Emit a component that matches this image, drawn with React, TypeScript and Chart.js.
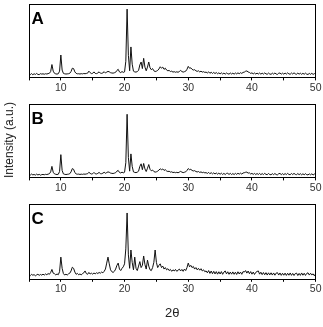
import React, { useEffect, useRef } from "react";
import { Chart, registerables } from "chart.js";

Chart.register(...registerables);

// 2θ sampling of the diffraction patterns
const TWO_THETA_START = 5;
const TWO_THETA_STEP = 0.2;
const TWO_THETA_MIN = 5;
const TWO_THETA_MAX = 50;
const TICK_STEP = 5;
const LABEL_EVERY = 10;

// Pattern A intensities (a.u.), one value per 0.2° from 5.0° to 50.0°
const patternA = [
  4.8, 3.8, 5.2, 3.6, 5.0, 4.0, 5.4, 4.0, 3.8, 5.1, // 5.0–6.8
  4.5, 4.9, 4.3, 5.0, 4.6, 5.2, 5.6, 8.0, 17.5, 8.5, // 7.0–8.8
  5.6, 4.8, 4.5, 5.0, 8.5, 30.5, 10.0, 5.5, 4.9, 4.6, // 9.0–10.8
  4.8, 5.0, 5.6, 8.0, 12.5, 12.0, 7.5, 5.5, 4.9, 5.0, // 11.0–12.8
  4.6, 5.1, 4.8, 5.3, 5.0, 5.4, 5.8, 8.5, 6.5, 5.2, // 13.0–14.8
  5.6, 7.5, 5.4, 5.2, 6.0, 7.6, 5.8, 5.5, 6.2, 7.8, // 15.0–16.8
  6.0, 7.2, 8.2, 7.6, 6.4, 6.0, 5.8, 6.3, 7.0, 9.5, // 17.0–18.8
  11.0, 7.5, 6.5, 8.0, 6.8, 7.5, 22.0, 93.0, 30.0, 9.0, // 19.0–20.8
  41.5, 18.0, 8.5, 7.5, 7.2, 8.0, 9.5, 17.0, 21.0, 12.0, // 21.0–22.8
  26.0, 14.0, 9.0, 14.0, 21.0, 13.0, 10.5, 12.0, 9.0, 8.0, // 23.0–24.8
  8.5, 9.5, 11.5, 14.5, 12.5, 14.0, 11.0, 12.5, 10.0, 9.0, // 25.0–26.8
  9.5, 8.0, 8.5, 7.2, 7.8, 7.0, 7.6, 7.0, 8.0, 9.5, // 27.0–28.8
  8.0, 7.2, 7.8, 8.5, 11.0, 15.0, 12.5, 13.0, 11.0, 10.0, // 29.0–30.8
  10.5, 9.0, 8.2, 9.0, 7.5, 8.5, 7.2, 7.8, 6.8, 7.2, // 31.0–32.8
  6.0, 7.6, 5.6, 7.0, 5.4, 6.8, 5.2, 6.6, 5.0, 6.2, // 33.0–34.8
  4.8, 6.2, 4.6, 5.9, 4.4, 6.0, 5.0, 4.4, 6.0, 4.6, // 35.0–36.8
  5.8, 4.4, 6.0, 4.8, 6.2, 5.0, 6.4, 5.4, 6.8, 7.2, // 37.0–38.8
  8.4, 8.8, 7.4, 6.8, 5.4, 6.2, 4.8, 6.0, 4.6, 5.8, // 39.0–40.8
  4.6, 6.0, 4.4, 5.8, 4.5, 6.1, 4.8, 4.3, 5.9, 4.6, // 41.0–42.8
  4.2, 5.8, 4.5, 6.0, 4.6, 4.1, 5.7, 6.0, 4.4, 5.8, // 43.0–44.8
  4.4, 5.9, 4.5, 6.2, 4.8, 4.3, 6.0, 4.6, 6.3, 4.8, // 45.0–46.8
  4.3, 5.9, 4.4, 5.7, 4.2, 5.6, 4.3, 5.8, 4.4, 4.0, // 47.0–48.8
  5.4, 4.2, 5.6, 4.0, 5.2, 4.3, // 49.0–50.0
];

// Pattern B intensities (a.u.)
const patternB = [
  4.2, 3.2, 4.6, 3.4, 4.0, 3.1, 4.5, 3.3, 4.2, 3.0, // 5.0–6.8
  3.8, 4.0, 3.6, 4.2, 3.9, 4.4, 5.0, 7.5, 15.0, 7.0, // 7.0–8.8
  4.8, 4.2, 3.9, 4.3, 8.0, 31.0, 9.5, 4.8, 4.2, 3.9, // 9.0–10.8
  4.2, 4.4, 5.0, 7.5, 12.0, 11.0, 6.5, 4.8, 4.3, 4.5, // 11.0–12.8
  4.0, 4.4, 4.1, 4.6, 4.3, 4.7, 5.0, 7.0, 5.5, 4.6, // 13.0–14.8
  5.0, 6.8, 4.9, 4.7, 5.5, 6.8, 5.2, 5.0, 5.8, 7.0, // 15.0–16.8
  5.6, 6.6, 7.5, 7.0, 5.9, 5.5, 5.3, 5.8, 6.4, 8.5, // 17.0–18.8
  9.5, 6.8, 6.0, 7.2, 6.2, 7.0, 20.0, 86.0, 27.0, 8.5, // 19.0–20.8
  32.0, 15.0, 7.5, 6.8, 6.5, 7.2, 8.5, 15.0, 18.5, 10.5, // 21.0–22.8
  19.0, 11.5, 8.0, 12.5, 17.5, 11.0, 9.0, 10.0, 8.0, 7.2, // 23.0–24.8
  7.6, 8.5, 10.0, 11.7, 10.5, 11.5, 9.5, 10.5, 8.8, 8.0, // 25.0–26.8
  8.4, 7.2, 7.6, 6.6, 7.0, 6.4, 6.9, 6.3, 7.2, 8.2, // 27.0–28.8
  7.2, 6.5, 7.0, 7.6, 9.5, 12.0, 10.5, 11.0, 9.5, 8.8, // 29.0–30.8
  9.2, 8.0, 7.4, 8.0, 6.8, 7.5, 6.5, 7.0, 6.2, 6.5, // 31.0–32.8
  5.4, 6.8, 5.0, 6.5, 4.8, 6.2, 4.6, 6.0, 4.4, 5.8, // 33.0–34.8
  4.3, 5.7, 4.0, 5.5, 3.9, 5.4, 5.6, 4.0, 5.5, 3.9, // 35.0–36.8
  5.2, 3.9, 5.5, 4.1, 5.7, 4.4, 5.8, 4.5, 6.0, 6.4, // 37.0–38.8
  7.0, 7.2, 5.8, 6.2, 4.6, 5.5, 4.1, 5.4, 3.9, 5.3, // 39.0–40.8
  4.0, 5.4, 3.7, 5.2, 3.9, 5.5, 4.1, 3.8, 5.3, 3.9, // 41.0–42.8
  3.6, 5.1, 3.8, 5.3, 3.9, 3.5, 5.0, 5.4, 3.8, 5.1, // 43.0–44.8
  3.7, 5.2, 3.9, 5.5, 4.0, 3.7, 5.3, 3.9, 5.5, 4.1, // 45.0–46.8
  3.8, 5.2, 3.7, 5.0, 3.5, 4.9, 3.6, 5.1, 3.7, 3.4, // 47.0–48.8
  4.8, 3.5, 4.9, 3.3, 4.7, 3.4, // 49.0–50.0
];

// Pattern C intensities (a.u.)
const patternC = [
  5.5, 4.2, 6.0, 4.8, 5.6, 4.0, 5.2, 6.1, 4.6, 5.8, // 5.0–6.8
  4.9, 6.2, 5.0, 6.5, 5.4, 7.0, 6.0, 8.5, 12.5, 7.5, // 7.0–8.8
  6.8, 5.2, 6.4, 5.5, 9.5, 29.0, 14.0, 7.0, 5.0, 6.2, // 9.0–10.8
  5.0, 6.6, 7.5, 10.5, 15.5, 14.0, 9.0, 6.0, 7.2, 5.4, // 11.0–12.8
  6.5, 5.2, 7.0, 8.0, 10.5, 7.0, 6.0, 8.5, 6.4, 7.5, // 13.0–14.8
  6.2, 7.8, 6.5, 8.2, 7.0, 8.5, 7.5, 9.0, 8.0, 10.0, // 15.0–16.8
  13.0, 21.0, 29.0, 20.0, 12.0, 9.5, 8.5, 10.0, 13.0, 18.0, // 17.0–18.8
  21.0, 13.0, 11.0, 14.0, 16.0, 20.0, 40.0, 88.0, 32.0, 14.0, // 19.0–20.8
  38.5, 22.0, 12.0, 29.0, 14.0, 11.0, 17.0, 23.0, 15.0, 18.0, // 21.0–22.8
  30.5, 19.0, 13.0, 25.0, 17.0, 12.0, 11.0, 15.0, 22.0, 38.5, // 23.0–24.8
  22.0, 15.0, 18.0, 20.0, 15.0, 17.0, 13.0, 15.0, 12.0, 13.5, // 25.0–26.8
  11.0, 12.5, 10.0, 12.0, 10.5, 12.5, 10.0, 11.5, 13.0, 10.5, // 27.0–28.8
  12.5, 10.0, 13.0, 11.0, 15.0, 21.0, 16.0, 18.0, 15.0, 16.5, // 29.0–30.8
  13.0, 15.0, 12.0, 14.0, 11.5, 13.5, 10.5, 12.0, 9.5, 10.5, // 31.0–32.8
  8.0, 11.0, 7.2, 10.4, 6.8, 10.0, 6.5, 9.6, 6.2, 9.4, // 33.0–34.8
  6.4, 9.6, 6.0, 9.0, 10.5, 6.6, 9.4, 6.0, 9.0, 6.2, // 35.0–36.8
  9.2, 6.0, 8.8, 5.8, 9.4, 6.4, 9.0, 6.0, 9.6, 9.0, // 37.0–38.8
  11.0, 7.6, 10.4, 6.8, 9.6, 6.2, 9.0, 5.8, 8.6, 9.8, // 39.0–40.8
  10.5, 6.2, 8.8, 5.6, 8.4, 5.4, 8.2, 5.0, 8.0, 5.2, // 41.0–42.8
  8.0, 5.0, 7.8, 4.8, 7.6, 8.2, 5.0, 7.8, 4.6, 7.4, // 43.0–44.8
  4.8, 7.6, 4.5, 7.4, 4.8, 7.8, 4.6, 7.2, 4.4, 7.0, // 45.0–46.8
  7.6, 4.4, 7.2, 4.6, 7.8, 4.8, 7.4, 4.5, 7.2, 8.0, // 47.0–48.8
  5.0, 7.4, 5.2, 6.6, 4.0, 6.8, // 49.0–50.0
];

const panelLetters = ["A", "B", "C"];
const xAxisTitle = "2θ";
const yAxisTitle = "Intensity (a.u.)";

const FONT = "'Liberation Sans', Arial, Helvetica, sans-serif";
const WIDTH = 323;

// Draws the closed frame around the plot area and the panel letter.
const framePlugin = {
  id: "panelFrame",
  afterDraw(chart: any, _args: any, opts: any) {
    const { ctx, chartArea } = chart;
    const { left, top, right, bottom } = chartArea;
    ctx.save();
    ctx.strokeStyle = "#000";
    ctx.lineWidth = 1;
    ctx.strokeRect(Math.round(left) + 0.5, Math.round(top) + 0.5,
      Math.round(right - left) - 1, Math.round(bottom - top));
    ctx.fillStyle = "#000";
    ctx.font = `bold 17px ${FONT}`;
    ctx.textBaseline = "alphabetic";
    ctx.textAlign = "left";
    ctx.fillText(opts.letter, left + 2.5, top + 19.5);
    ctx.restore();
  },
};

function toPoints(values: number[]) {
  return values.map((v, i) => ({ x: TWO_THETA_START + i * TWO_THETA_STEP, y: v }));
}

type PanelProps = {
  letter: string;
  values: number[];
  top: number;
  height: number;
  withTitle: boolean;
};

function Panel({ letter, values, top, height, withTitle }: PanelProps) {
  const ref = useRef<HTMLCanvasElement>(null);

  useEffect(() => {
    if (!ref.current) return;
    const chart = new Chart(ref.current, {
      type: "line",
      data: {
        datasets: [
          {
            data: toPoints(values),
            borderColor: "#111",
            borderWidth: 1,
            pointRadius: 0,
            tension: 0,
            fill: false,
          },
        ],
      },
      options: {
        animation: false,
        responsive: false,
        maintainAspectRatio: false,
        events: [],
        layout: {
          padding: { left: 29, right: 7, top: 4, bottom: withTitle ? 6 : 4 },
        },
        plugins: {
          legend: { display: false },
          tooltip: { enabled: false },
          panelFrame: { letter },
        } as any,
        scales: {
          x: {
            type: "linear",
            min: TWO_THETA_MIN,
            max: TWO_THETA_MAX,
            border: { display: false },
            grid: {
              display: true,
              drawOnChartArea: false,
              drawTicks: true,
              tickLength: 3,
              color: "#000",
              tickColor: "#000",
            },
            ticks: {
              stepSize: TICK_STEP,
              autoSkip: false,
              maxRotation: 0,
              padding: 1.5,
              color: "#333",
              font: { family: FONT, size: 10.5 },
              callback: (v: any) => (Number(v) % LABEL_EVERY === 0 ? String(v) : ""),
            },
            title: {
              display: withTitle,
              text: xAxisTitle,
              color: "#222",
              font: { family: FONT, size: 13 },
              padding: { top: 8, bottom: 0 },
            },
          },
          y: {
            display: false,
            min: 0,
            max: 100,
          },
        },
      },
      plugins: [framePlugin],
    });
    return () => chart.destroy();
  }, [letter, values, withTitle]);

  return (
    <canvas
      ref={ref}
      width={WIDTH}
      height={height}
      style={{ position: "absolute", left: 0, top, width: WIDTH, height }}
    />
  );
}

export default function App() {
  return (
    <div
      style={{
        position: "absolute",
        left: 0,
        top: 0,
        width: WIDTH,
        height: 327,
        background: "#fff",
        overflow: "hidden",
      }}
    >
      <Panel letter={panelLetters[0]} values={patternA} top={0} height={100} withTitle={false} />
      <Panel letter={panelLetters[1]} values={patternB} top={100} height={100} withTitle={false} />
      <Panel letter={panelLetters[2]} values={patternC} top={200} height={127} withTitle={true} />
      <div
        style={{
          position: "absolute",
          left: 8.5,
          top: 140,
          transform: "translate(-50%, -50%) rotate(-90deg)",
          whiteSpace: "nowrap",
          fontFamily: FONT,
          fontSize: 12,
          color: "#222",
          lineHeight: 1,
        }}
      >
        {yAxisTitle}
      </div>
    </div>
  );
}
